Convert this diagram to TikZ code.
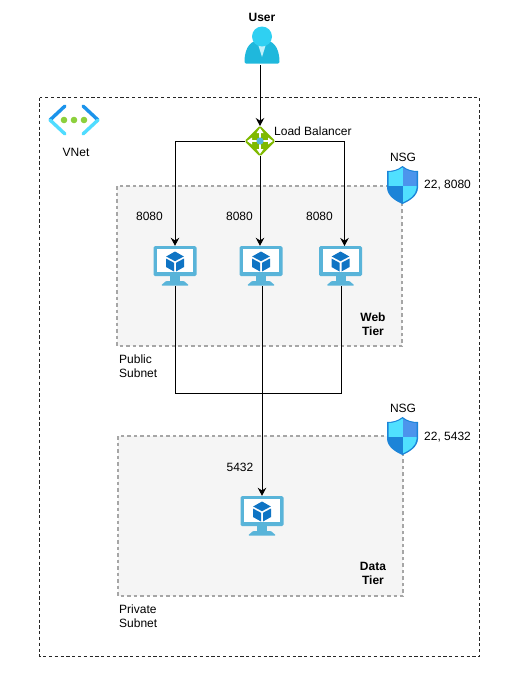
\documentclass[tikz,border=0pt]{standalone}
\usepackage{fontspec}
\setmainfont{Liberation Sans}
\usetikzlibrary{arrows.meta, positioning}
\definecolor{vmblue}{HTML}{59B4D9}
\definecolor{cubeblue}{HTML}{0F74C4}
\definecolor{lbgreen}{HTML}{7FB900}
\definecolor{userblue}{HTML}{1FB8DC}
\definecolor{headblue}{HTML}{2FD0F2}
\definecolor{netdark}{HTML}{1B93EB}
\definecolor{netlight}{HTML}{50DCFF}
\definecolor{netgreen}{HTML}{8CD03C}
\definecolor{shielddark}{HTML}{1C84D8}
\definecolor{shieldmid}{HTML}{4C94EC}
\definecolor{shieldlight}{HTML}{50E0FF}
\tikzset{%
	every node/.style={
		font=\fontsize{12}{14}\selectfont,
		align=center,
		inner sep=0pt
	},
	subnet box/.style={
		draw=black!35,
		fill=black!4,
		line width=1.4pt,
		dash pattern=on 3.5pt off 3pt
	},
	icon box/.style={
		minimum width=44pt,
		minimum height=40pt
	},
	link/.style={
		line width=1pt,
		black
	},
	link arrow/.style={
		link,
		-{Stealth[length=8pt,width=8.5pt]}
	},
	vm icon/.pic={
		\fill[vmblue,rounded corners=1.5pt] (-21.5,-20) rectangle (21.5,10);
		\fill[white] (-18,-17.5) rectangle (18,6);
		\fill[vmblue] (-5,9) rectangle (5,16);
		\fill[vmblue,rounded corners=1pt] (-9,15) -- (9,15) -- (14,19.5) -- (-14,19.5) -- cycle;
		\fill[cubeblue] (0,-14.5) -- (8.8,-9.5) -- (0,-4.8) -- (-8.8,-9.5) -- cycle;
		\fill[cubeblue] (-9,-7.5) -- (-1,-3.2) -- (-1,5.5) -- (-9,1) -- cycle;
		\fill[cubeblue] (9,-7.5) -- (1,-3.2) -- (1,5.5) -- (9,1) -- cycle;
	},
	shield icon/.pic={
		\fill[shielddark] (0,-19) .. controls (5,-15) and (10,-14) .. (15.5,-14) -- (15.5,3) .. controls (15,11) and (7,16) .. (0,19) .. controls (-7,16) and (-15,11) .. (-15.5,3) -- (-15.5,-14) .. controls (-10,-14) and (-5,-15) .. cycle;
		\begin{scope}
			\clip (0,-17.5) .. controls (5,-14) and (10,-13) .. (14,-13) -- (14,3) .. controls (13.5,10) and (7,14.5) .. (0,17.5) .. controls (-7,14.5) and (-13.5,10) .. (-14,3) -- (-14,-13) .. controls (-10,-13) and (-5,-14) .. cycle;
			\fill[shieldlight] (-16,-19) rectangle (0,1);
			\fill[shieldmid] (0,-19) rectangle (16,1);
			\fill[shielddark] (-16,1) rectangle (0,19);
			\fill[shieldlight] (0,1) rectangle (16,19);
		\end{scope}
	},
	user icon/.pic={
		\fill[userblue,rounded corners=1.5pt] (-17.5,19.5) .. controls (-17.5,2) and (-10,-4) .. (0,-4) .. controls (10,-4) and (17.5,2) .. (17.5,19.5) -- cycle;
		\fill[white!70!headblue] (-5,-3) -- (5,-3) -- (0,13) -- cycle;
		\fill[headblue] (0,-7.5) circle (10);
	},
	lb icon/.pic={
		\fill[lbgreen,rounded corners=1.5pt] (0,-15.5) -- (15.5,0) -- (0,15.5) -- (-15.5,0) -- cycle;
		\draw[white,line width=1.2pt] (-10,0) -- (10,0) (0,-10) -- (0,10);
		\fill[white] (-13,0) -- (-8,-3.5) -- (-8,3.5) -- cycle;
		\fill[white] (13,0) -- (8,-3.5) -- (8,3.5) -- cycle;
		\fill[white] (0,-13) -- (-3.5,-8) -- (3.5,-8) -- cycle;
		\fill[white] (0,13) -- (-3.5,8) -- (3.5,8) -- cycle;
		\fill[vmblue] (0,0) circle (3.6);
	},
	vnet icon/.pic={
		\draw[netdark,line width=3.4pt,line cap=round] (-9,-14) -- (-24,0);
		\draw[netlight,line width=3.4pt,line cap=round] (-24,0) -- (-9,14);
		\draw[netdark,line width=3.4pt,line cap=round] (9,-14) -- (24,0);
		\draw[netlight,line width=3.4pt,line cap=round] (24,0) -- (9,14);
		\fill[netgreen] (-10,0) circle (3.3) (0,0) circle (3.3) (10,0) circle (3.3);
	},
}

\begin{document}
\begin{tikzpicture}[x=1pt,y=-1pt]
	\useasboundingbox (0,0) rectangle (511,675);
	
	% Boxes
	\draw[black!85,line width=1pt,dash pattern=on 3.2pt off 2.6pt] (39.5,97.5) rectangle (479.5,656.5);
	\draw[subnet box] (117,186) rectangle (402,346);
	\draw[subnet box] (118,436) rectangle (403,596);
	
	% Nodes behind the icons
	\node (user) at (262,44) [minimum width=36pt,minimum height=40pt] {};
	\node (lb) at (260,141) [minimum width=30pt,minimum height=30pt] {};
	\node[icon box] (web1) at (175,266) {};
	\node[icon box] (web2) at (261,266) {};
	\node[icon box] (web3) at (340.5,266) {};
	\node[icon box] (data1) at (262,516) {};
	\coordinate (userout) at (260,65);
	\coordinate (lbin) at (260,126);
	\coordinate (web3in) at (344.5,246);
	\coordinate (web2out) at (262,286);
	\coordinate (web3out) at (341.5,286);
	\coordinate (busleft) at (175,393);
	\coordinate (busright) at (341.5,393);
	
	% Connectors
	\draw[link arrow] (userout) -- (lbin);
	\draw[link arrow] (lb.west) -| (web1.north);
	\draw[link arrow] (lb.south) -- (lb.south |- web2.north);
	\draw[link arrow] (lb.east) -| (web3in);
	\draw[link] (web1.south) -- (busleft) -- (busright) -- (web3out);
	\draw[link arrow] (web2out) -- (data1.north);
	
	% Icons
	\pic at (user) {user icon};
	\pic at (lb) {lb icon};
	\pic at (web1) {vm icon};
	\pic at (web2) {vm icon};
	\pic at (web3) {vm icon};
	\pic at (data1) {vm icon};
	\pic at (74,120) {vnet icon};
	\pic at (402.5,185) {shield icon};
	\pic at (402.5,436) {shield icon};
	
	% Labels
	\node[font=\fontsize{12}{14}\selectfont\bfseries] (userlabel) at (262,17) {User};
	\node[anchor=west] (lblabel) at (274,131.5) {Load Balancer};
	\node (vnetlabel) at (76,152) {VNet};
	\node (nsgweb) at (403,157.5) {NSG};
	\node (nsgdata) at (403,408) {NSG};
	\node[anchor=west] (portsweb) at (424,185) {22, 8080};
	\node[anchor=west] (portsdata) at (424,437) {22, 5432};
	\node (port1) at (149.5,216) {8080};
	\node (port2) at (239.5,216) {8080};
	\node (port3) at (319.5,216) {8080};
	\node (port4) at (240,467) {5432};
	\node[font=\fontsize{12}{14}\selectfont\bfseries] (webtier) at (373,324) {Web\\Tier};
	\node[font=\fontsize{12}{14}\selectfont\bfseries] (datatier) at (373,573) {Data\\Tier};
	\node[anchor=west,align=left] (pubnet) at (119,366) {Public\\Subnet};
	\node[anchor=west,align=left] (privnet) at (119,616) {Private\\Subnet};
\end{tikzpicture}
\end{document}
